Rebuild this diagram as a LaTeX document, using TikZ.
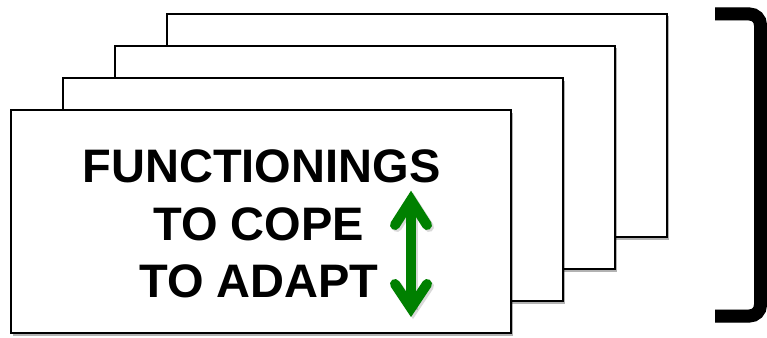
\documentclass[tikz,border=0pt]{standalone}
\usepackage{fontspec}
\setmainfont{Liberation Sans}
\usetikzlibrary{shadows}
\definecolor{arrowgreen}{RGB}{0,128,0}
\begin{document}
\begin{tikzpicture}[x=1pt,y=-1pt,
  card/.style={draw=black, line width=2pt, fill=white, minimum width=500pt, minimum height=223pt,
    inner sep=0pt, outer sep=0pt,
    drop shadow={shadow xshift=2.5pt, shadow yshift=-2.5pt, opacity=0.3, fill=black}},
  label/.style={anchor=base, inner sep=0pt, font=\fontsize{47}{54}\selectfont\bfseries},
  arrowline/.style={draw=arrowgreen, line width=10pt},
  arrowshade/.style={draw=black, opacity=0.15, line width=10pt},
  bracketline/.style={draw=black, line width=13pt, rounded corners=11pt}
]
\useasboundingbox (0,0) rectangle (767,337);
% stacked cards
\node[card] (c4) at (416.5,125.5) {};
\node[card] (c3) at (364.5,157.5) {};
\node[card] (c2) at (312.5,189.5) {};
\node[card] (c1) at (260.5,221.5) {};
% texts
\node[label] (t1) at (261.5,182) {FUNCTIONINGS};
\node[label] (t2) at (258.5,240) {TO COPE};
\node[label] (t3) at (259,297) {TO ADAPT};
% arrow shadow
\begin{scope}[xshift=2pt, yshift=-2pt]
\coordinate (sa) at (411,200);
\coordinate (sb) at (411,308);
\draw[arrowshade, line cap=butt] (sa) -- (sb);
\draw[arrowshade, line cap=round, line join=miter] (395,225) -- (sa) -- (427,225);
\draw[arrowshade, line cap=round, line join=miter] (395,284) -- (sb) -- (427,284);
\end{scope}
% green double arrow
\coordinate (au) at (411,200);
\coordinate (ad) at (411,308);
\coordinate (aul) at (395,225);
\coordinate (aur) at (427,225);
\coordinate (adl) at (395,284);
\coordinate (adr) at (427,284);
\draw[arrowline, line cap=butt] (au) -- (ad);
\draw[arrowline, line cap=round, line join=miter] (aul) -- (au) -- (aur);
\draw[arrowline, line cap=round, line join=miter] (adl) -- (ad) -- (adr);
% bracket
\coordinate (bt) at (715,14);
\coordinate (btr) at (760.5,14);
\coordinate (bbr) at (760.5,316);
\coordinate (bb) at (715,316);
\draw[bracketline, draw=black, opacity=0.15, xshift=2pt, yshift=-3pt] (bt) -- (btr) -- (bbr) -- (bb);
\draw[bracketline] (bt) -- (btr) -- (bbr) -- (bb);
\end{tikzpicture}
\end{document}
